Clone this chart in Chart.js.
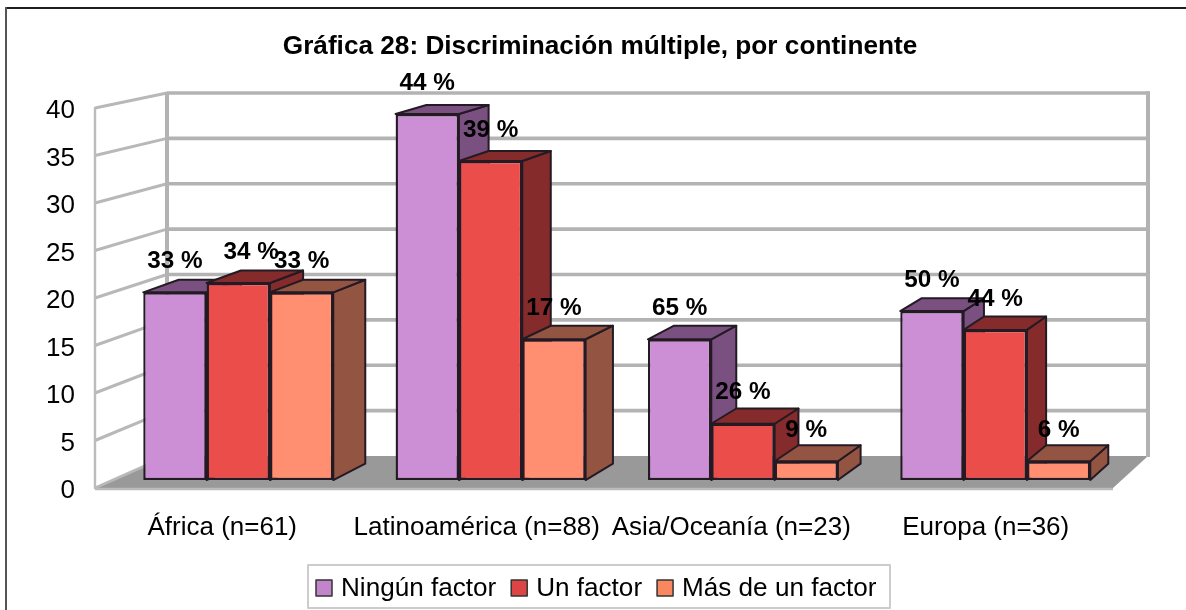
<!DOCTYPE html>
<html><head><meta charset="utf-8">
<script src="https://cdn.jsdelivr.net/npm/chart.js@4"></script>
<style>html,body{margin:0;padding:0;background:#fff;overflow:hidden}canvas{display:block}</style>
</head><body><canvas id="c" width="1186" height="610"></canvas>
<script>
const categories = ['África (n=61)','Latinoamérica (n=88)','Asia/Oceanía (n=23)','Europa (n=36)'];
const ningunFactor = [20,39,15,18];
const unFactor = [21,34,6,16];
const masDeUnFactor = [20,15,2,2];
const ningunPct = ['33 %','44 %','65 %','50 %'];
const unPct = ['34 %','39 %','26 %','44 %'];
const masPct = ['33 %','17 %','9 %','6 %'];
const seriesNames = ['Ningún factor','Un factor','Más de un factor'];
const yTicks = {min:0,max:40,step:5};

const FONT='"Liberation Sans", Arial, sans-serif';
const frontCol=['#CC8FD6','#EB4D4B','#FF8F70'];
const sideCol=['#7A5080','#852B2B','#935542'];
const legendCol=['#C285CC','#DD4444','#F98860'];
const edge='#241a24', wall='#b3b3b3';
const pctLabels=[ningunPct,unPct,masPct];

// Depth helpers: map a point of the axis plane to the bars' plane and to their rear face
const toBarPlane=(x,y)=>[0.9915*x+17.9, 0.988*y-2.1];
const toBarRear=(x,y)=>[x+0.0185*(2063-x), y+0.02*(-338-y)];

function poly(ctx,pts,fill,stroke,lw){
  ctx.beginPath();pts.forEach((p,i)=>i?ctx.lineTo(p[0],p[1]):ctx.moveTo(p[0],p[1]));ctx.closePath();
  if(fill){ctx.fillStyle=fill;ctx.fill();}
  if(stroke){ctx.strokeStyle=stroke;ctx.lineWidth=lw;ctx.lineJoin='round';ctx.stroke();}
}
function line(ctx,x0,y0,x1,y1,col,lw){
  ctx.beginPath();ctx.moveTo(x0,y0);ctx.lineTo(x1,y1);ctx.strokeStyle=col;ctx.lineWidth=lw;ctx.stroke();
}

const scene={
  id:'scene',
  afterLayout(chart){
    // the title is centred over the plot including its left wall
    chart.titleBlock.left=87;
    chart.titleBlock.right=1113;
  },
  beforeDraw(chart){
    const {ctx}=chart, y=chart.scales.y, a=chart.chartArea;
    const bx=x=>167+(x-a.left)*(1148-167)/(a.right-a.left);
    const by=p=>456-(a.bottom-p)*(456-93)/(a.bottom-a.top);
    ctx.save();
    ctx.fillStyle='#fff';ctx.fillRect(0,0,chart.width,chart.height);
    // outer frame
    line(ctx,0+6,8,chart.width,8,'#1e1e1e',2);
    line(ctx,6,7,6,chart.height,'#555',2);
    // floor
    poly(ctx,[[a.left,a.bottom],[a.right,a.bottom],[bx(a.right),by(a.bottom)],[bx(a.left),by(a.bottom)]],'#999');
    // walls and grid
    y.ticks.forEach(t=>{
      const p=y.getPixelForValue(t.value);
      if(t.value>0) line(ctx,bx(a.left),by(p),bx(a.right)+1,by(p),wall,3.6);
      line(ctx,a.left,p,bx(a.left),by(p),'#b8b8b8',3);
    });
    line(ctx,bx(a.left),by(a.top)-1,bx(a.left),by(a.bottom),wall,4);
    line(ctx,bx(a.right),by(a.top)-1.8,bx(a.right),by(a.bottom)+1,wall,4);
    line(ctx,a.left,a.top-1,a.left,a.bottom+1,'#bbb',2.4);
    line(ctx,a.left,a.bottom+1,a.right,a.bottom+1,'#bbb',2.4);
    ctx.restore();
  },
  beforeDatasetsDraw(chart){
    const {ctx}=chart;
    ctx.save();
    chart.data.datasets.forEach((ds,d)=>{
      chart.getDatasetMeta(d).data.forEach(bar=>{
        const w=bar.width/2;
        const [xl,yt]=toBarPlane(bar.x-w,bar.y);
        const [xr,yb]=toBarPlane(bar.x+w,bar.base);
        const bTL=toBarRear(xl,yt),bTR=toBarRear(xr,yt),bBR=toBarRear(xr,yb);
        poly(ctx,[[xr,yt],bTR,bBR,[xr,yb]],sideCol[d],edge,2);
        poly(ctx,[[xl,yt],bTL,bTR,[xr,yt]],sideCol[d],edge,2);
      });
    });
    ctx.restore();
    ctx.save();
    ctx.transform(0.9915,0,0,0.988,17.9,-2.1);
  },
  afterDatasetsDraw(chart){
    const {ctx}=chart;
    ctx.restore();
    ctx.save();
    // value labels
    ctx.font='bold 24.3px '+FONT;ctx.fillStyle='#000';ctx.textAlign='center';ctx.textBaseline='middle';
    chart.data.datasets.forEach((ds,d)=>{
      chart.getDatasetMeta(d).data.forEach((bar,i)=>{
        const [x,y]=toBarPlane(bar.x,bar.y);
        const nudge=(d===1&&i===0)?13:0;
        ctx.fillText(pctLabels[d][i],x+nudge,y-31);
      });
    });
    // legend
    ctx.font='26.1px '+FONT;
    poly(ctx,[[308,565],[890,565],[890,608],[308,608]],'#fff','#ccc',2);
    let x=316;
    ctx.textAlign='left';
    seriesNames.forEach((n,i)=>{
      ctx.fillStyle=legendCol[i];ctx.strokeStyle='#333';ctx.lineWidth=1.5;
      ctx.fillRect(x,580,16,16);ctx.strokeRect(x,580,16,16);
      ctx.fillStyle='#000';
      ctx.fillText(n,x+25,589);
      x+=25+ctx.measureText(n).width+15;
    });
    ctx.restore();
  }
};

new Chart(document.getElementById('c'),{
  type:'bar',
  data:{labels:categories,datasets:[
    {label:seriesNames[0],data:ningunFactor,backgroundColor:frontCol[0]},
    {label:seriesNames[1],data:unFactor,backgroundColor:frontCol[1]},
    {label:seriesNames[2],data:masDeUnFactor,backgroundColor:frontCol[2]}
  ]},
  options:{
    responsive:false,animation:false,devicePixelRatio:1,
    layout:{padding:{left:0,right:73,top:0,bottom:0}},
    datasets:{bar:{categoryPercentage:0.753,barPercentage:1,borderColor:edge,borderWidth:2.4,borderSkipped:false}},
    plugins:{
      legend:{display:false},
      tooltip:{enabled:false},
      title:{display:true,text:'Gráfica 28: Discriminación múltiple, por continente',color:'#000',
        font:{family:FONT,size:26.2,weight:'bold',lineHeight:1.2},padding:{top:31,bottom:45.6}}
    },
    scales:{
      x:{grid:{display:false},border:{display:false},
        ticks:{color:'#000',font:{family:FONT,size:26},padding:16,autoSkip:false,maxRotation:0,minRotation:0},
        afterFit(s){s.height=122;}},
      y:{min:yTicks.min,max:yTicks.max,grid:{display:false,drawTicks:false},border:{display:false},
        ticks:{stepSize:yTicks.step,color:'#000',font:{family:FONT,size:26},padding:20,labelOffset:3},
        afterFit(s){s.width=95;}}
    }
  },
  plugins:[scene]
});
</script></body></html>
